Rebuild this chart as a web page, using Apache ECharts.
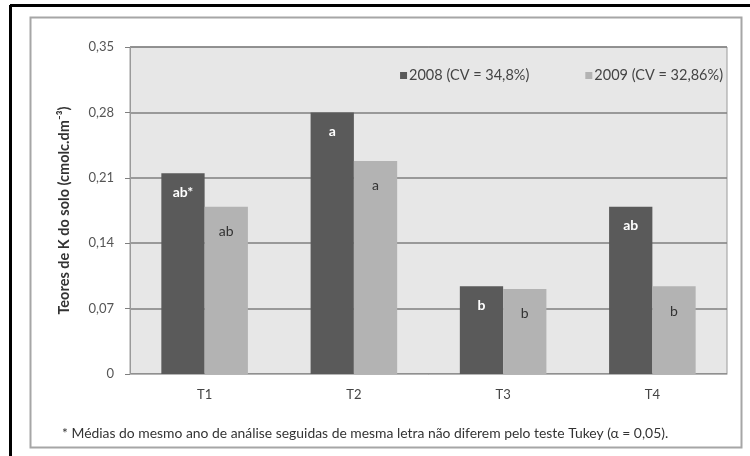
<!DOCTYPE html>
<html>
<head>
<meta charset="utf-8">
<script src="https://cdn.jsdelivr.net/npm/echarts@6/dist/echarts.min.js"></script>
<style>
  html, body { margin: 0; padding: 0; background: #fff; }
</style>
</head>
<body>
<div id="myChart" style="width: 750px; height: 456px;"></div>
<script>
// dados do gráfico
var categorias = ['T1', 'T2', 'T3', 'T4'];
var valores2008 = [0.215, 0.280, 0.094, 0.179];
var valores2009 = [0.179, 0.228, 0.091, 0.094];
var letras2008 = ['ab*', 'a', 'b', 'ab'];
var letras2009 = ['ab', 'a', 'b', 'b'];
var nomeSerie2008 = '2008 (CV = 34,8%)';
var nomeSerie2009 = '2009 (CV = 32,86%)';
var nota = '* Médias do mesmo ano de análise seguidas de mesma letra não diferem pelo teste Tukey (α = 0,05).';

var fonte = '"Lato", sans-serif';

var option = {
  animation: false,
  textStyle: { fontFamily: fonte },
  graphic: [
    // borda preta externa
    { type: 'line', shape: { x1: 10, y1: 5.5, x2: 750, y2: 5.5 }, style: { stroke: '#000', lineWidth: 3 } },
    { type: 'line', shape: { x1: 10.5, y1: 5, x2: 10.5, y2: 456 }, style: { stroke: '#000', lineWidth: 3 } },
    // borda cinza do gráfico
    { type: 'rect', shape: { x: 30.5, y: 17.5, width: 711, height: 430 }, style: { fill: 'none', stroke: '#a6a6a6', lineWidth: 2 }, z: -1 },
    // nota de rodapé
    { type: 'text', left: 62, top: 427, style: { text: nota, fontSize: 13.9, fill: '#333', fontFamily: fonte } }
  ],
  legend: {
    top: 63,
    right: 22,
    itemWidth: 7,
    itemHeight: 7,
    itemGap: 56,
    icon: 'rect',
    textStyle: { fontSize: 14.5, color: '#444', padding: [0, 0, 0, -3] },
    data: [nomeSerie2008, nomeSerie2009]
  },
  grid: {
    left: 130,
    right: 23,
    top: 47,
    bottom: 82,
    show: true,
    backgroundColor: '#e7e7e7',
    borderColor: '#9a9a9a',
    borderWidth: 1
  },
  xAxis: {
    type: 'category',
    data: categorias,
    axisLine: { lineStyle: { color: '#b5b5b5' } },
    axisTick: { show: false },
    axisLabel: { fontSize: 13, color: '#444', margin: 14 }
  },
  yAxis: {
    type: 'value',
    min: 0,
    max: 0.35,
    interval: 0.07,
    name: 'Teores de K do solo (cmolc.dm⁻³)',
    nameLocation: 'middle',
    nameGap: 58,
    nameTextStyle: { fontSize: 14.5, fontWeight: 'bold', color: '#333' },
    axisLine: { show: true, lineStyle: { color: '#9a9a9a' } },
    axisTick: { show: true, length: 5, lineStyle: { color: '#7f7f7f' } },
    axisLabel: {
      fontSize: 13,
      color: '#555',
      margin: 16,
      formatter: function (v) {
        return v === 0 ? '0' : v.toFixed(2).replace('.', ',');
      }
    },
    splitLine: { lineStyle: { color: '#7f7f7f', width: 1.5 } }
  },
  series: [
    {
      name: nomeSerie2008,
      type: 'bar',
      data: valores2008,
      barGap: '0%',
      barCategoryGap: '42%',
      itemStyle: { color: '#5a5a5a' },
      label: {
        show: true,
        position: 'insideTop',
        distance: 12,
        color: '#fff',
        fontSize: 14,
        fontWeight: 'bold',
        formatter: function (p) { return letras2008[p.dataIndex]; }
      }
    },
    {
      name: nomeSerie2009,
      type: 'bar',
      data: valores2009,
      itemStyle: { color: '#b3b3b3' },
      label: {
        show: true,
        position: 'insideTop',
        distance: 18,
        color: '#333',
        fontSize: 14,
        formatter: function (p) { return letras2009[p.dataIndex]; }
      }
    }
  ]
};

var myChart = echarts.init(document.getElementById('myChart'));
myChart.setOption(option);
</script>
</body>
</html>
